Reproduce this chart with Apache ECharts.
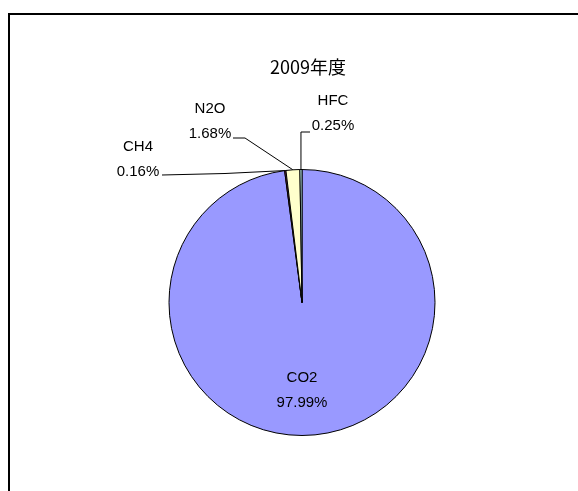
<!DOCTYPE html>
<html>
<head>
<meta charset="utf-8">
<script src="https://cdn.jsdelivr.net/npm/echarts@6/dist/echarts.min.js"></script>
<style>
  html, body { margin: 0; padding: 0; background: #fff; }
  #chart { width: 578px; height: 491px; }
</style>
</head>
<body>
<div id="chart"></div>
<script>
// 2009年度 gas shares (%)
const gasNames = ['CO2', 'CH4', 'N2O', 'HFC'];
const gasValues = [97.99, 0.16, 1.68, 0.25];
const gasColors = ['#9999FF', '#993366', '#FFFFCC', '#CCFFFF'];

// where each label sits (centre of text block) and where its leader line bends
const labelPos = {
  CO2: {x: 302, y: 390},
  CH4: {x: 138, y: 159, bend: [225, 173.5], end: [162, 175]},
  N2O: {x: 210, y: 121, bend: [245, 138], end: [233, 138]},
  HFC: {x: 333, y: 113, bend: null, end: [310, 132]},
};

const chart = echarts.init(document.getElementById('chart'));

chart.setOption({
  backgroundColor: '#fff',
  animation: false,
  title: {
    text: '2009年度',
    left: 303,
    top: 53,
    textAlign: 'center',
    textStyle: {color: '#000', fontSize: 18, fontWeight: 'normal', fontFamily: 'Noto Sans CJK JP'}
  },
  graphic: [{
    type: 'rect',
    shape: {x: 9, y: 14, width: 620, height: 500},
    style: {fill: 'none', stroke: '#000', lineWidth: 2}
  }],
  series: [{
    type: 'pie',
    center: [302, 302.5],
    radius: 133,
    startAngle: 90,
    clockwise: true,
    avoidLabelOverlap: false,
    emphasis: {disabled: true},
    itemStyle: {borderColor: '#000', borderWidth: 1},
    label: {
      show: true,
      formatter: '{b}\n{c}%',
      color: '#000',
      fontSize: 15,
      lineHeight: 25,
      fontFamily: 'Liberation Sans, Arial, sans-serif',
      align: 'center'
    },
    labelLine: {show: true, length: 10, length2: 10, lineStyle: {color: '#000', width: 1}},
    labelLayout: function (params) {
      const name = gasNames[params.dataIndex];
      const p = labelPos[name];
      const out = {x: p.x, y: p.y, align: 'center', verticalAlign: 'middle'};
      if (p.end && params.labelLinePoints) {
        const start = params.labelLinePoints[0];
        const bend = p.bend || [start[0], p.end[1]];
        out.labelLinePoints = [start, bend, p.end];
      }
      return out;
    },
    data: gasNames.map((n, i) => ({
      name: n,
      value: gasValues[i],
      itemStyle: {color: gasColors[i]},
      label: n === 'CO2' ? {position: 'inside'} : {position: 'outside'},
      labelLine: {show: n !== 'CO2'}
    }))
  }]
});
</script>
</body>
</html>
